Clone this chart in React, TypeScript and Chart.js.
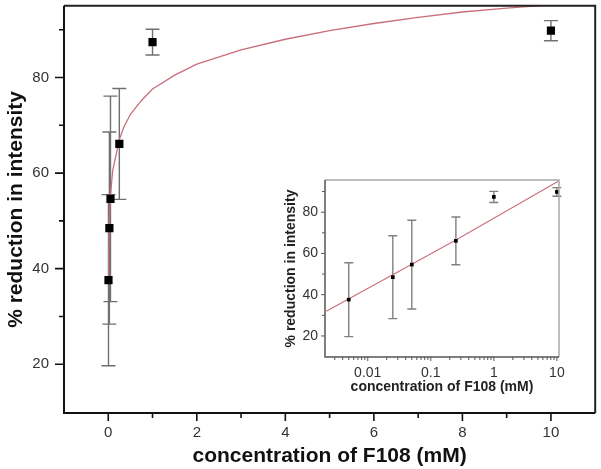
import React, { useEffect, useRef } from 'react';
import { Chart, registerables } from 'chart.js';

Chart.register(...registerables);

// ---- data ----
const concX = [0.005, 0.025, 0.05, 0.25, 1, 10];
const reductionY = [37.6, 48.5, 54.6, 66.1, 87.4, 89.8];
const reductionErr = [17.9, 20.1, 21.5, 11.6, 2.7, 2.1];

const fitX = [0.005, 0.01, 0.025, 0.05, 0.1, 0.25, 0.35, 0.5, 0.75, 1, 1.5, 2, 3, 4, 5, 6, 7, 8, 9, 10];
const fitY = [38.4, 43.5, 50.2, 55.4, 60.5, 67.0, 69.6, 72.3, 75.2, 77.6, 80.5, 82.8, 85.8, 88.0, 89.8, 91.3, 92.6, 93.7, 94.5, 95.2];

const insetFitX = [0.0022, 0.25, 10.5];
const insetFitY = [32.0, 66.5, 95.0];

// ---- tick labels / positions ----
const mainXTicks = [0, 2, 4, 6, 8, 10];
const mainXMinor = [1, 3, 5, 7, 9];
const mainYTicks = [20, 40, 60, 80];
const mainYMinor = [30, 50, 70, 90];

const insetXTicks = [0.01, 0.1, 1, 10];
const insetXMinor = [
  0.003, 0.004, 0.005, 0.006, 0.007, 0.008, 0.009,
  0.02, 0.03, 0.04, 0.05, 0.06, 0.07, 0.08, 0.09,
  0.2, 0.3, 0.4, 0.5, 0.6, 0.7, 0.8, 0.9,
  2, 3, 4, 5, 6, 7, 8, 9,
];
const insetYTicks = [20, 40, 60, 80];
const insetYMinor = [30, 50, 70, 90];

const xTitle = 'concentration of F108 (mM)';
const yTitle = '% reduction in intensity';

const FONT = 'Arial, "Liberation Sans", Helvetica, sans-serif';
const FIT_COLOR = '#c96f7b';

function errorBarPlugin(capHalf: number, color: string, width: number) {
  return {
    id: 'errbars',
    beforeDatasetsDraw(chart: any) {
      const { ctx, scales } = chart;
      const x = scales.x, y = scales.y;
      ctx.save();
      ctx.strokeStyle = color;
      ctx.lineWidth = width;
      concX.forEach((cx, i) => {
        const px = x.getPixelForValue(cx);
        const top = y.getPixelForValue(reductionY[i] + reductionErr[i]);
        const bot = y.getPixelForValue(reductionY[i] - reductionErr[i]);
        ctx.beginPath();
        ctx.moveTo(px, top); ctx.lineTo(px, bot);
        ctx.moveTo(px - capHalf, top); ctx.lineTo(px + capHalf, top);
        ctx.moveTo(px - capHalf, bot); ctx.lineTo(px + capHalf, bot);
        ctx.stroke();
      });
      ctx.restore();
    },
  };
}

function framePlugin(o: {
  lb: string; tr: string; lw: number; tickColor: string; tickW: number;
  xMajor: number[]; xMinor: number[]; yMajor: number[]; yMinor: number[];
  xMajLen: number; xMinLen: number; yMajLen: number; yMinLen: number;
}) {
  return {
    id: 'frame',
    afterDraw(chart: any) {
      const { ctx, chartArea: a, scales } = chart;
      const x = scales.x, y = scales.y;
      ctx.save();
      ctx.lineWidth = o.lw;
      ctx.strokeStyle = o.tr;
      ctx.beginPath();
      ctx.moveTo(a.left, a.top); ctx.lineTo(a.right, a.top); ctx.lineTo(a.right, a.bottom);
      ctx.stroke();
      ctx.strokeStyle = o.lb;
      ctx.beginPath();
      ctx.moveTo(a.left, a.top); ctx.lineTo(a.left, a.bottom); ctx.lineTo(a.right, a.bottom);
      ctx.stroke();
      ctx.strokeStyle = o.tickColor;
      ctx.lineWidth = o.tickW;
      ctx.beginPath();
      o.xMajor.forEach(v => { const p = x.getPixelForValue(v); ctx.moveTo(p, a.bottom); ctx.lineTo(p, a.bottom + o.xMajLen); });
      o.xMinor.forEach(v => { const p = x.getPixelForValue(v); ctx.moveTo(p, a.bottom); ctx.lineTo(p, a.bottom + o.xMinLen); });
      o.yMajor.forEach(v => { const p = y.getPixelForValue(v); ctx.moveTo(a.left, p); ctx.lineTo(a.left - o.yMajLen, p); });
      o.yMinor.forEach(v => { const p = y.getPixelForValue(v); ctx.moveTo(a.left, p); ctx.lineTo(a.left - o.yMinLen, p); });
      ctx.stroke();
      ctx.restore();
    },
  };
}

function fixWidth(w: number) {
  return (s: any) => { s.width = w; s.paddingTop = 0; s.paddingBottom = 0; s.paddingLeft = 0; s.paddingRight = 0; };
}
function fixHeight(h: number) {
  return (s: any) => { s.height = h; s.paddingTop = 0; s.paddingBottom = 0; s.paddingLeft = 0; s.paddingRight = 0; };
}

export default function App() {
  const mainRef = useRef<HTMLCanvasElement>(null);
  const insetRef = useRef<HTMLCanvasElement>(null);

  useEffect(() => {
    const main = new Chart(mainRef.current as HTMLCanvasElement, {
      type: 'scatter',
      data: {
        datasets: [
          {
            type: 'line',
            data: fitX.map((v, i) => ({ x: v, y: fitY[i] })),
            borderColor: FIT_COLOR,
            borderWidth: 1.3,
            pointRadius: 0,
            fill: false,
            tension: 0,
            order: 2,
          } as any,
          {
            data: concX.map((v, i) => ({ x: v, y: reductionY[i] })),
            pointStyle: 'rect',
            pointRadius: 5.8,
            backgroundColor: '#000',
            borderColor: '#000',
            borderWidth: 0,
            order: 1,
          },
        ],
      },
      options: {
        animation: false,
        responsive: false,
        devicePixelRatio: 1,
        events: [],
        layout: { padding: { left: 0, top: 3, right: 5, bottom: 0 } },
        plugins: { legend: { display: false }, tooltip: { enabled: false } },
        scales: {
          x: {
            type: 'linear',
            min: -1,
            max: 11,
            afterBuildTicks: (s: any) => { s.ticks = mainXTicks.map(v => ({ value: v })); },
            afterFit: fixHeight(56),
            grid: { display: false, drawTicks: false },
            border: { display: false },
            ticks: { padding: 11, color: '#333', font: { family: FONT, size: 15 }, callback: (v: any) => String(v) },
            title: { display: true, text: xTitle, color: '#111', font: { family: FONT, size: 21, weight: 'bold' }, padding: { top: 0, bottom: 0 } },
          },
          y: {
            type: 'linear',
            min: 9.8,
            max: 95,
            afterBuildTicks: (s: any) => { s.ticks = mainYTicks.map(v => ({ value: v })); },
            afterFit: fixWidth(64),
            grid: { display: false, drawTicks: false },
            border: { display: false },
            ticks: { padding: 15, color: '#333', font: { family: FONT, size: 15 }, callback: (v: any) => String(v) },
            title: { display: true, text: yTitle, color: '#111', font: { family: FONT, size: 21, weight: 'bold' }, padding: { top: 4, bottom: 0 } },
          },
        },
      } as any,
      plugins: [
        errorBarPlugin(7, '#707070', 1.4),
        framePlugin({
          lb: '#111', tr: '#222', lw: 2, tickColor: '#111', tickW: 1.6,
          xMajor: mainXTicks, xMinor: mainXMinor, yMajor: mainYTicks, yMinor: mainYMinor,
          xMajLen: 8, xMinLen: 5, yMajLen: 9, yMinLen: 5,
        }),
      ],
    });

    const inset = new Chart(insetRef.current as HTMLCanvasElement, {
      type: 'scatter',
      data: {
        datasets: [
          {
            type: 'line',
            data: insetFitX.map((v, i) => ({ x: v, y: insetFitY[i] })),
            borderColor: FIT_COLOR,
            borderWidth: 1.1,
            pointRadius: 0,
            fill: false,
            tension: 0,
            order: 2,
          } as any,
          {
            data: concX.map((v, i) => ({ x: v, y: reductionY[i] })),
            pointStyle: 'rect',
            pointRadius: 2.6,
            backgroundColor: '#000',
            borderColor: '#000',
            borderWidth: 0,
            order: 1,
          },
        ],
      },
      options: {
        animation: false,
        responsive: false,
        devicePixelRatio: 1,
        events: [],
        layout: { padding: { left: 0, top: 10, right: 6, bottom: 0 } },
        plugins: { legend: { display: false }, tooltip: { enabled: false } },
        scales: {
          x: {
            type: 'logarithmic',
            min: 0.0021,
            max: 10.8,
            afterBuildTicks: (s: any) => { s.ticks = insetXTicks.map(v => ({ value: v })); },
            afterFit: fixHeight(43),
            grid: { display: false, drawTicks: false },
            border: { display: false },
            ticks: { padding: 8, color: '#333', font: { family: FONT, size: 14 }, callback: (v: any) => String(v) },
            title: { display: true, text: xTitle, color: '#222', font: { family: FONT, size: 14, weight: 'bold' }, padding: { top: 0, bottom: 4 } },
          },
          y: {
            type: 'linear',
            min: 9.8,
            max: 95.6,
            afterBuildTicks: (s: any) => { s.ticks = insetYTicks.map(v => ({ value: v })); },
            afterFit: fixWidth(55),
            grid: { display: false, drawTicks: false },
            border: { display: false },
            ticks: { padding: 7, color: '#333', font: { family: FONT, size: 14 }, callback: (v: any) => String(v) },
            title: { display: true, text: yTitle, color: '#222', font: { family: FONT, size: 14, weight: 'bold' }, padding: { top: 13, bottom: 0 } },
          },
        },
      } as any,
      plugins: [
        errorBarPlugin(4.5, '#808080', 1.4),
        framePlugin({
          lb: '#555', tr: '#a8a8a8', lw: 1.5, tickColor: '#555', tickW: 1,
          xMajor: insetXTicks, xMinor: insetXMinor, yMajor: insetYTicks, yMinor: insetYMinor,
          xMajLen: 4, xMinLen: 3, yMajLen: 4, yMinLen: 3,
        }),
      ],
    });

    return () => {
      main.destroy();
      inset.destroy();
    };
  }, []);

  return (
    <div style={{ position: 'absolute', left: 0, top: 0, width: 601, height: 469, background: '#fff' }}>
      <canvas ref={mainRef} width={601} height={469} style={{ position: 'absolute', left: 0, top: 0 }} />
      <canvas ref={insetRef} width={295} height={230} style={{ position: 'absolute', left: 270, top: 170 }} />
    </div>
  );
}
